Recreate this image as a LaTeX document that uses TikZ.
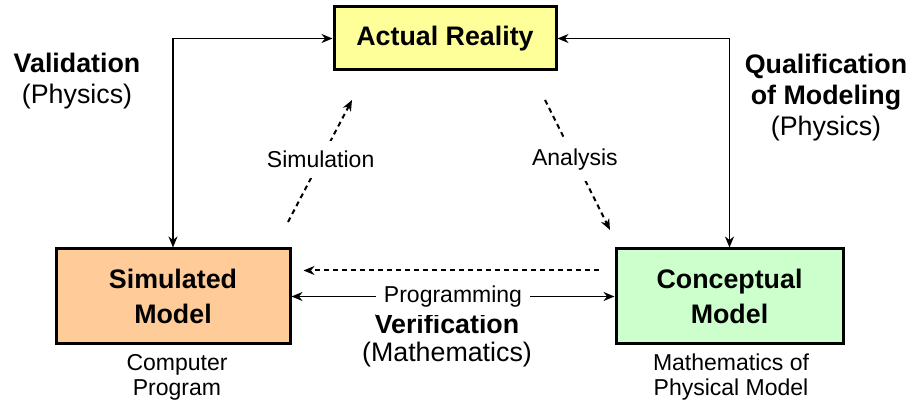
\documentclass[tikz,border=0pt]{standalone}
\usepackage{fontspec}
\setmainfont{Liberation Sans}
\usetikzlibrary{arrows.meta}
\definecolor{realfill}{HTML}{FFFF99}
\definecolor{simfill}{HTML}{FFCC99}
\definecolor{confill}{HTML}{CCFFCC}
\tikzset{
  block/.style={draw, line width=1.5pt, align=center, inner sep=0pt,
    minimum height=47.5pt, font=\bfseries\fontsize{13.4}{17.5}\selectfont},
  head/.style={align=center, font=\fontsize{13.4}{15.5}\selectfont},
  note/.style={align=center, font=\fontsize{11.5}{12.5}\selectfont},
  dashlink/.style={line width=1pt, dash pattern=on 2.5pt off 2pt},
}
\begin{document}
\begin{tikzpicture}[x=0.5pt,y=-0.5pt,line width=0.9pt,
    >={Stealth[length=5.5pt,width=4.5pt]}]
    \useasboundingbox (0,0) rectangle (911,405);
    % boxes
    \node [block, fill=realfill, minimum width=111pt, minimum height=31.5pt] (act) at (445,38.5) {Actual Reality};
    \node [block, fill=simfill, minimum width=117pt] (sim) at (173,296.5) {Simulated\\Model};
    \node [block, fill=confill, minimum width=113.5pt] (con) at (729.5,296.5) {Conceptual\\Model};
    % side texts
    \node [head] (valid) at (77,81.5) {\textbf{Validation}\\(Physics)};
    \node [head] (qual) at (826,97.5) {\textbf{Qualification}\\\textbf{of Modeling}\\(Physics)};
    \node [head] (verif) at (447,341) {\textbf{Verification}\\[-1.5pt](Mathematics)};
    \node [note] (comp) at (177,377.5) {Computer\\Program};
    \node [note] (phys) at (731,377.5) {Mathematics of\\Physical Model};
    % ends of the dashed arrows
    \coordinate (s1) at (288,222);
    \coordinate (s2) at (352,100);
    \coordinate (a1) at (545,100);
    \coordinate (a2) at (610,230);
    \draw [<->] (sim.north) |- (act.west);
    \draw [<->] (con.north) |- (act.east);
    \draw [<->] (sim.east) -- node [note, fill=white, inner sep=4pt] {Programming} (con.west);
    \draw [dashlink,->] ([xshift=-8pt,yshift=13pt]con.west) -- ([xshift=6pt,yshift=13pt]sim.east);
    \draw [dashlink,->] (s1) -- node [note, fill=white, inner sep=5pt, pos=0.51] {Simulation} (s2);
    \draw [dashlink,->] (a1) -- node [note, fill=white, inner sep=5pt, pos=0.46] {Analysis} (a2);
  \end{tikzpicture}
\end{document}
